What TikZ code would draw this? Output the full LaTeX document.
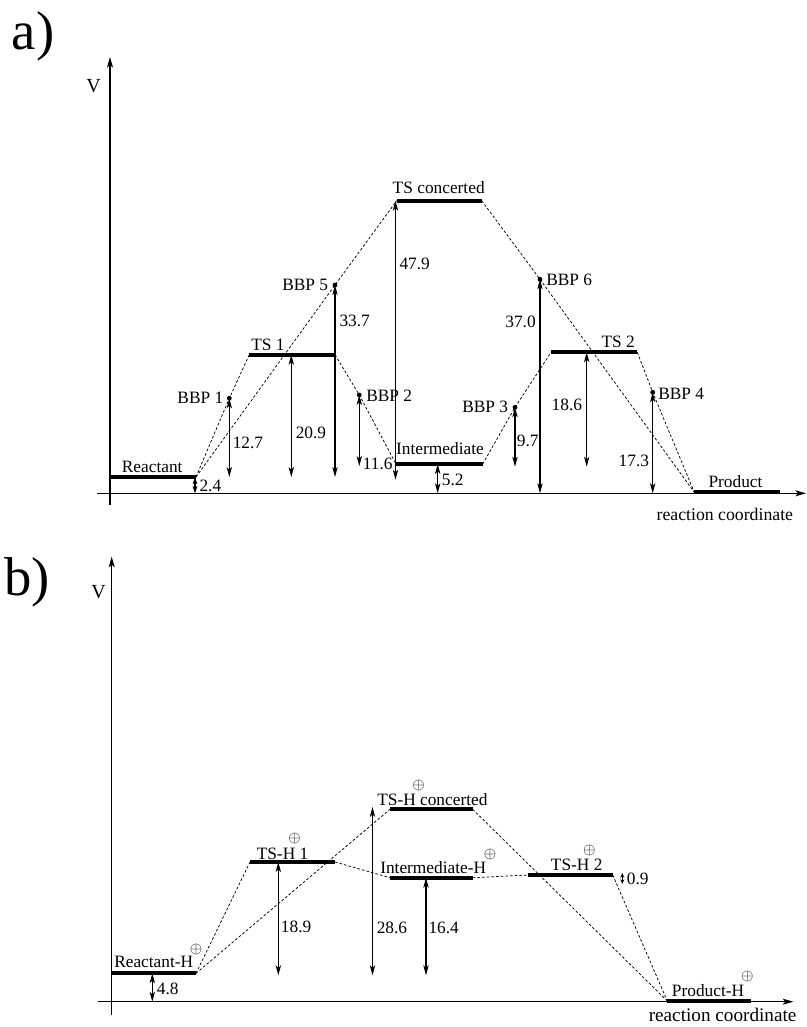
\documentclass[tikz,border=0pt]{standalone}
\usepackage{fontspec}
\setmainfont{Liberation Serif}
\usetikzlibrary{arrows.meta}
\tikzset{
  lvl/.style={line width=3pt},
  axisline/.style={line width=0.8pt,-{Stealth[length=8pt,width=4.5pt,inset=2pt]}},
  dim/.style={line width=0.8pt,{Stealth[length=7.5pt,width=4pt,inset=2pt]}-{Stealth[length=7.5pt,width=4pt,inset=2pt]}},
  dimsmall/.style={line width=0.8pt,{Stealth[length=5.5pt,width=3.6pt,inset=1.5pt]}-{Stealth[length=5.5pt,width=3.6pt,inset=1.5pt]}},
  dimtiny/.style={line width=0.6pt,{Stealth[length=3.5pt,width=3pt,inset=1pt]}-{Stealth[length=3.5pt,width=3pt,inset=1pt]}},
  rpath/.style={line width=0.55pt,dash pattern=on 2pt off 1.5pt},
  lab/.style={inner sep=0pt,font=\fontsize{13}{15}\selectfont},
  vlab/.style={inner sep=0pt,font=\fontsize{15}{17}\selectfont},
  rclab/.style={inner sep=0pt,font=\fontsize{13.3}{15}\selectfont},
  rclabb/.style={inner sep=0pt,font=\fontsize{14.4}{16}\selectfont},
  bbp/.style={circle,fill,inner sep=0pt,minimum size=3.6pt},
  plus/.style={inner sep=0pt,font=\fontsize{11.5}{11.5}\selectfont},
  panel/.style={inner sep=0pt,font=\fontsize{41}{41}\selectfont},
}
\begin{document}
\begin{tikzpicture}[x=0.75pt,y=-0.75pt]
\useasboundingbox (0,0) rectangle (806,1027);

% ================= panel a =================
\node[panel] (pa) at (33,36) {a)};
\coordinate (ya0) at (110,505);
\coordinate (ya1) at (110,57);
\coordinate (xa0) at (97,493.3);
\coordinate (xa1) at (806,493.3);
\draw[axisline] (ya0) -- (ya1);
\draw[axisline] (xa0) -- (xa1);
\node[vlab] (Va) at (93.5,86.5) {V};
\node[rclab,anchor=base east] (rca) at (793.3,520) {reaction coordinate};

% levels
\coordinate (RL) at (109,477);   \coordinate (RR) at (196,477);
\coordinate (T1L) at (249.3,354.7); \coordinate (T1R) at (335,354.7);
\coordinate (TcL) at (396.7,200.7); \coordinate (TcR) at (481.7,200.7);
\coordinate (IL) at (396,464);   \coordinate (IR) at (482.7,464);
\coordinate (T2L) at (551,352.3); \coordinate (T2R) at (637.3,352.3);
\coordinate (PL) at (694.3,492.3); \coordinate (PR) at (780,492.3);
\draw[lvl] (RL) -- (RR);
\draw[lvl] (T1L) -- (T1R);
\draw[lvl] (TcL) -- (TcR);
\draw[lvl] (IL) -- (IR);
\draw[lvl] (T2L) -- (T2R);
\draw[lvl] (PL) -- (PR);

% BBP points
\node[bbp] (B1) at (229.3,398.3) {};
\node[bbp] (B2) at (359.3,395) {};
\node[bbp] (B3) at (515,407.3) {};
\node[bbp] (B4) at (652.7,392.3) {};
\node[bbp] (B5) at (335,285) {};
\node[bbp] (B6) at (540,279.3) {};

% reaction paths
\draw[rpath] (RR) -- (B1.center) -- (T1L);
\draw[rpath] (RR) -- (B5.center) -- (TcL);
\draw[rpath] (T1R) -- (B2.center) -- (IL);
\draw[rpath] (IR) -- (B3.center) -- (T2L);
\draw[rpath] (TcR) -- (B6.center) -- (PL);
\draw[rpath] (T2R) -- (B4.center) -- (PL);

% energy arrows
\coordinate (a24) at (195,477);
\coordinate (a209) at (291.3,354.7);
\coordinate (a479) at (395.5,200.7);
\coordinate (a52) at (437.7,464);
\coordinate (a186) at (586.7,352.3);
\draw[dimsmall] (a24) -- (a24 |- xa0);
\draw[dim] (B1.center) -- (B1 |- RR);
\draw[dim] (a209) -- (a209 |- RR);
\draw[dim] (B5.center) -- (B5 |- RR);
\draw[dim] (B2.center) -- ([yshift=-1.5pt]B2 |- IL);
\draw[dim] (a479) -- ([yshift=-2pt]a479 |- RR);
\draw[dim] (a52) -- (a52 |- xa0);
\draw[dim] (B3.center) -- ([yshift=-2pt]B3 |- IR);
\draw[dim] (B6.center) -- (B6 |- xa0);
\draw[dim] (a186) -- ([yshift=-2pt]a186 |- IR);
\draw[dim] (B4.center) -- (B4 |- xa0);

% labels
\node[lab,anchor=base] (lR) at (152.2,472) {Reactant};
\node[lab,anchor=base west] (l24) at (199.3,491.5) {2.4};
\node[lab,anchor=base east] (lB1) at (223.5,403) {BBP 1};
\node[lab,anchor=base west] (l127) at (232.5,448) {12.7};
\node[lab,anchor=base west] (lT1) at (251,350.5) {TS 1};
\node[lab,anchor=base west] (l209) at (295.5,438.3) {20.9};
\node[lab,anchor=base east] (lB5) at (328.3,290) {BBP 5};
\node[lab,anchor=base west] (l337) at (339.3,326.7) {33.7};
\node[lab,anchor=base west] (lB2) at (366,401.7) {BBP 2};
\node[lab,anchor=base west] (l116) at (362.7,469.3) {11.6};
\node[lab,anchor=base] (lTc) at (438.7,193.3) {TS concerted};
\node[lab,anchor=base west] (l479) at (399.3,269.3) {47.9};
\node[lab,anchor=base] (lI) at (440,454) {Intermediate};
\node[lab,anchor=base west] (l52) at (441.7,485) {5.2};
\node[lab,anchor=base east] (lB3) at (508.3,412.3) {BBP 3};
\node[lab,anchor=base west] (l97) at (516.7,446) {9.7};
\node[lab,anchor=base west] (lB6) at (546,285) {BBP 6};
\node[lab,anchor=base east] (l370) at (536,327.3) {37.0};
\node[lab,anchor=base east] (lT2) at (635,347.7) {TS 2};
\node[lab,anchor=base east] (l186) at (582.3,410) {18.6};
\node[lab,anchor=base west] (lB4) at (658,399) {BBP 4};
\node[lab,anchor=base east] (l173) at (649.3,466) {17.3};
\node[lab,anchor=base] (lP) at (735.5,487.3) {Product};

% ================= panel b =================
\node[panel] (pb) at (27,582) {b)};
\coordinate (yb0) at (111.7,1015);
\coordinate (yb1) at (111.7,556.7);
\coordinate (xb0) at (98,1001.7);
\coordinate (xb1) at (793.3,1001.7);
\draw[axisline] (yb0) -- (yb1);
\draw[axisline] (xb0) -- (xb1);
\node[vlab] (Vb) at (98.5,592) {V};
\node[rclabb,anchor=base east] (rcb) at (796.7,1021.5) {reaction coordinate};

\coordinate (RHL) at (111.7,973.3); \coordinate (RHR) at (196,973.3);
\coordinate (H1L) at (250,862);     \coordinate (H1R) at (335,862);
\coordinate (HcL) at (390,809.3);   \coordinate (HcR) at (472.7,809.3);
\coordinate (IHL) at (390,877.7);   \coordinate (IHR) at (472.7,877.7);
\coordinate (H2L) at (528.3,875);   \coordinate (H2R) at (612.7,875);
\coordinate (PHL) at (667.3,1001);  \coordinate (PHR) at (750.7,1001);
\draw[lvl] (RHL) -- (RHR);
\draw[lvl] (H1L) -- (H1R);
\draw[lvl] (HcL) -- (HcR);
\draw[lvl] (IHL) -- (IHR);
\draw[lvl] (H2L) -- (H2R);
\draw[lvl] (PHL) -- (PHR);

\draw[rpath] (RHR) -- (H1L);
\draw[rpath] (RHR) -- (HcL);
\draw[rpath] (H1R) -- (IHL);
\draw[rpath] (IHR) -- (H2L);
\draw[rpath] (HcR) -- (PHL);
\draw[rpath] (H2R) -- (PHL);

\coordinate (b48) at (152.3,973.3);
\coordinate (b189) at (278.3,862);
\coordinate (b286) at (372.5,807);
\coordinate (b164) at (426,877.7);
\coordinate (b09a) at (622.3,873);
\coordinate (b09b) at (622.3,884);
\draw[dim] (b48) -- (b48 |- xb0);
\draw[dim] (b189) -- ([yshift=-1.5pt]b189 |- RHR);
\draw[dim] (b286) -- ([yshift=-1.5pt]b286 |- RHR);
\draw[dim] (b164) -- ([yshift=-1.5pt]b164 |- RHR);
\draw[dimtiny] (b09a) -- (b09b);

\node[lab,anchor=base west] (lRH) at (114,967.7) {Reactant-H};
\node[plus] (pRH) at (196,949) {$\oplus$};
\node[lab,anchor=base west] (l48) at (156.7,994.3) {4.8};
\node[lab,anchor=base west] (lH1) at (256.5,859) {TS-H 1};
\node[plus] (pH1) at (294.7,838.7) {$\oplus$};
\node[lab,anchor=base west] (l189) at (280.7,932.3) {18.9};
\node[lab,anchor=base west] (l286) at (376.5,933) {28.6};
\node[lab,anchor=base west] (l164) at (428.3,933) {16.4};
\node[lab,anchor=base west] (lHc) at (377,805) {TS-H concerted};
\node[plus] (pHc) at (418.7,785) {$\oplus$};
\node[lab,anchor=base west] (lIH) at (380,873.3) {Intermediate-H};
\node[plus] (pIH) at (490,854) {$\oplus$};
\node[lab,anchor=base west] (lH2) at (550.7,870) {TS-H 2};
\node[plus] (pH2) at (589.3,850) {$\oplus$};
\node[lab,anchor=base west] (l09) at (626.7,884) {0.9};
\node[lab,anchor=base west] (lPH) at (671.7,996) {Product-H};
\node[plus] (pPH) at (747.3,976.7) {$\oplus$};
\end{tikzpicture}
\end{document}
